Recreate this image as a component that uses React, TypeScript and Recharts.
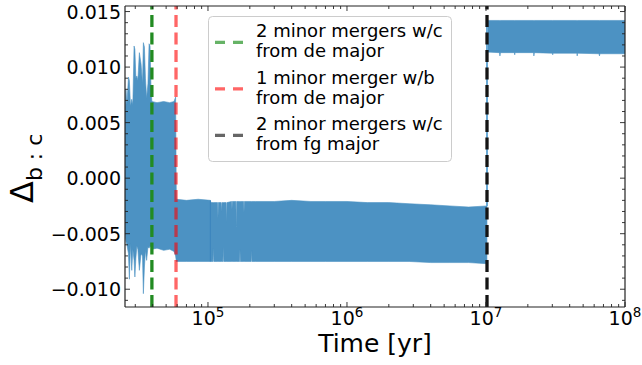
import React from "react";
import { ComposedChart, Area, XAxis, YAxis, ReferenceLine, Legend } from "recharts";

// envelope of the oscillating Δ_{b:c} signal
const times = [
  2.53e4, 2.57e4, 2.61e4, 2.68e4, 2.72e4, 2.77e4, 2.83e4, 2.88e4, 2.94e4, 2.98e4,
  3.03e4, 3.08e4, 3.13e4, 3.21e4, 3.3e4, 3.38e4, 3.43e4, 3.49e4, 3.55e4, 3.62e4,
  3.7e4, 3.77e4, 3.83e4, 3.89e4, 3.95e4,
  4.3e4, 4.8e4, 5.3e4, 5.7e4, 5.85e4,
  5.92e4, 7e4, 8.5e4, 1.04e5, 1.05e5,
  1.085e5, 1.092e5, 1.1e5, 1.172e5, 1.18e5, 1.188e5, 1.246e5, 1.255e5, 1.264e5,
  1.28e5, 1.288e5, 1.297e5, 1.35e5, 1.359e5, 1.368e5, 1.478e5, 1.488e5, 1.498e5,
  1.587e5, 1.598e5, 1.609e5, 1.688e5, 1.699e5, 1.71e5, 1.804e5, 1.816e5, 1.828e5,
  2.05e5, 2.063e5, 2.076e5,
  2.2e5, 3e5, 4e5, 5.5e5, 7e5, 1e6, 1.4e6, 2e6, 2.8e6, 4e6, 5.5e6, 7.5e6, 1.015e7,
  1.019e7, 1.25e7, 1.26e7, 1.27e7, 1.6e7, 1.61e7, 1.62e7, 2.2e7, 2.21e7, 2.23e7,
  3e7, 3.02e7, 3.04e7, 4.5e7, 4.53e7, 4.56e7, 6.5e7, 6.55e7, 6.6e7, 1e8,
];

const upper = [
  0.0064, 0.008, 0.0066, 0.0091, 0.0088, 0.0065, 0.0071, 0.0066, 0.0119, 0.0116,
  0.009, 0.0092, 0.0088, 0.0113, 0.0103, 0.0085, 0.0122, 0.0118, 0.009, 0.0072,
  0.0085, 0.0121, 0.0119, 0.0082, 0.0069,
  0.0068, 0.0069, 0.0068, 0.0069, 0.0073,
  -0.0019, -0.002, -0.0019, -0.002, -0.0022,
  -0.0022, -0.0022, -0.0022, -0.0022, -0.0036, -0.0022, -0.0022, -0.003, -0.0022,
  -0.0022, -0.0022, -0.0022, -0.0022, -0.004, -0.0022, -0.0021, -0.0028, -0.0021,
  -0.0021, -0.0044, -0.0021, -0.0021, -0.0021, -0.0021, -0.0021, -0.0031, -0.0021,
  -0.0021, -0.0021, -0.0021,
  -0.0021, -0.0021, -0.002, -0.0021, -0.0021, -0.0021, -0.0022, -0.0022, -0.0023, -0.0024, -0.0025, -0.0026, -0.0025,
  0.0142, 0.0142, 0.0142, 0.0142, 0.0142, 0.0142, 0.0142, 0.0142, 0.0142, 0.0142,
  0.0142, 0.0142, 0.0142, 0.0142, 0.0142, 0.0142, 0.0142, 0.0142, 0.0142, 0.0142,
];

const lower = [
  -0.005, -0.0057, -0.006, -0.0068, -0.0091, -0.0059, -0.0083, -0.0064, -0.0074, -0.0089,
  -0.0072, -0.0061, -0.0064, -0.0083, -0.0068, -0.007, -0.0104, -0.008, -0.0065, -0.0074,
  -0.0062, -0.0063, -0.0061, -0.0062, -0.0064,
  -0.0063, -0.0065, -0.0064, -0.0066, -0.007,
  -0.0075, -0.0075, -0.0075, -0.0075, -0.0075,
  -0.0075, -0.0063, -0.0075, -0.0075, -0.0075, -0.0075, -0.0075, -0.0075, -0.0075,
  -0.0075, -0.0062, -0.0075, -0.0075, -0.0075, -0.0075, -0.0075, -0.0075, -0.0075,
  -0.0075, -0.0075, -0.0075, -0.0075, -0.0064, -0.0075, -0.0075, -0.0075, -0.0075,
  -0.0075, -0.0065, -0.0075,
  -0.0075, -0.0075, -0.0075, -0.0075, -0.0075, -0.0075, -0.0075, -0.0075, -0.0075, -0.0076, -0.0076, -0.0076, -0.0077,
  0.01135, 0.0113, 0.011, 0.0113, 0.0113, 0.0111, 0.0113, 0.0113, 0.011, 0.0113,
  0.01125, 0.0111, 0.01125, 0.01125, 0.011, 0.01125, 0.0112, 0.011, 0.0112, 0.0112,
];

const xTicks = [
  3e4, 4e4, 5e4, 6e4, 7e4, 8e4, 9e4,
  1e5, 2e5, 3e5, 4e5, 5e5, 6e5, 7e5, 8e5, 9e5,
  1e6, 2e6, 3e6, 4e6, 5e6, 6e6, 7e6, 8e6, 9e6,
  1e7, 2e7, 3e7, 4e7, 5e7, 6e7, 7e7, 8e7, 9e7, 1e8,
];
const yTicks = [
  -0.011, -0.01, -0.009, -0.008, -0.007, -0.006, -0.005, -0.004, -0.003, -0.002, -0.001,
  0, 0.001, 0.002, 0.003, 0.004, 0.005, 0.006, 0.007, 0.008, 0.009, 0.01,
  0.011, 0.012, 0.013, 0.014, 0.015,
];

// merger events (vertical dashed lines)
const mergerTimes = [3.95e4, 5.89e4, 1.017e7];
const mergerLabels = [
  ["2 minor mergers w/c", "from de major"],
  ["1 minor merger w/b", "from de major"],
  ["2 minor mergers w/c", "from fg major"],
];
const lineColors = ["#228b22", "#ff0000", "#141414"];
const lineOpacity = [1, 0.6, 1];
const legendColors = ["#66b366", "#ff6666", "#666666"];

const FONT = "'DejaVu Sans', sans-serif";
const BLUE = "#4c92c3";
const SPINE = "#222";

const data = times.map((t, i) => ({ t, range: [lower[i], upper[i]] }));

const isDecade = (v: number) => Math.abs(Math.log10(v) - Math.round(Math.log10(v))) < 1e-6;
const isMajorY = (v: number) => Math.abs(Math.round(v * 1000)) % 5 === 0;
const fmtY = (v: number) => v.toFixed(3).replace("-", "\u2212");

function BottomTick(props: any) {
  const { x, y, payload } = props;
  const v = payload.value;
  const major = isDecade(v);
  return (
    <g>
      <line x1={x} y1={y} x2={x} y2={y - (major ? 5 : 3)} stroke={SPINE} strokeWidth={0.9} />
      {major && (
        <text x={x} y={y + 18} textAnchor="middle" fontSize={19} fontFamily={FONT} fill="#000">
          10
          <tspan dy={-8} fontSize={13.5}>
            {Math.round(Math.log10(v))}
          </tspan>
        </text>
      )}
    </g>
  );
}

function TopTick(props: any) {
  const { x, y, payload } = props;
  const major = isDecade(payload.value);
  return <line x1={x} y1={y} x2={x} y2={y + (major ? 5 : 3)} stroke={SPINE} strokeWidth={0.9} />;
}

function LeftTick(props: any) {
  const { x, y, payload } = props;
  const v = payload.value;
  const major = isMajorY(v);
  return (
    <g>
      <line x1={x} y1={y} x2={x + (major ? 5 : 3)} y2={y} stroke={SPINE} strokeWidth={0.9} />
      {major && (
        <text x={x - 4} y={y + 7} textAnchor="end" fontSize={19} fontFamily={FONT} fill="#000">
          {fmtY(v)}
        </text>
      )}
    </g>
  );
}

function RightTick(props: any) {
  const { x, y, payload } = props;
  const major = isMajorY(payload.value);
  return <line x1={x} y1={y} x2={x - (major ? 5 : 3)} y2={y} stroke={SPINE} strokeWidth={0.9} />;
}

function LegendBox() {
  return (
    <svg width={244} height={146} style={{ display: "block" }}>
      <rect x={0.5} y={0.5} width={243} height={145} rx={4} fill="#fff" fillOpacity={0.8} stroke="#cccccc" />
      {mergerLabels.map((lines, i) => (
        <g key={i}>
          <line x1={7} x2={35} y1={26.3 + i * 46.5} y2={26.3 + i * 46.5} stroke={legendColors[i]} strokeWidth={3.3} strokeDasharray="10 8" />
          {lines.map((s, j) => (
            <text key={j} x={48} y={21.3 + i * 46.5 + j * 19.8} fontSize={18} fontFamily={FONT} fill="#000">
              {s}
            </text>
          ))}
        </g>
      ))}
    </svg>
  );
}

export default function App() {
  return (
    <div style={{ position: "absolute", left: 0, top: 0, width: 642, height: 365, background: "#fff" }}>
      <ComposedChart width={642} height={365} data={data} margin={{ top: 1, right: 7, bottom: 28, left: 65 }}>
        <XAxis
          dataKey="t"
          type="number"
          scale="log"
          domain={[25300, 1e8]}
          allowDataOverflow
          ticks={xTicks}
          interval={0}
          tickSize={0}
          tickMargin={0}
          tickLine={false}
          tick={BottomTick}
          height={30}
          axisLine={{ stroke: SPINE, strokeWidth: 1.2 }}
        />
        <XAxis
          xAxisId="top"
          orientation="top"
          dataKey="t"
          type="number"
          scale="log"
          domain={[25300, 1e8]}
          allowDataOverflow
          ticks={xTicks}
          interval={0}
          tickSize={0}
          tickMargin={0}
          tickLine={false}
          tick={TopTick}
          height={5}
          axisLine={{ stroke: SPINE, strokeWidth: 1.2 }}
        />
        <YAxis
          type="number"
          domain={[-0.0116, 0.0155]}
          allowDataOverflow
          ticks={yTicks}
          interval={0}
          tickSize={0}
          tickMargin={0}
          tickLine={false}
          tick={LeftTick}
          width={60}
          axisLine={{ stroke: SPINE, strokeWidth: 1.2 }}
        />
        <YAxis
          yAxisId="right"
          orientation="right"
          type="number"
          domain={[-0.0116, 0.0155]}
          allowDataOverflow
          ticks={yTicks}
          interval={0}
          tickSize={0}
          tickMargin={0}
          tickLine={false}
          tick={RightTick}
          width={10}
          axisLine={{ stroke: SPINE, strokeWidth: 1.2 }}
        />
        <Area
          type="linear"
          dataKey="range"
          stroke={BLUE}
          strokeWidth={0.6}
          fill={BLUE}
          fillOpacity={1}
          dot={false}
          activeDot={false}
          isAnimationActive={false}
        />
        <ReferenceLine
          segment={[{ x: 1.04e5, y: -0.0075 }, { x: 1.04e5, y: -0.002 }]}
          stroke="#3a84bd"
          strokeWidth={1}
        />
        <ReferenceLine
          segment={[{ x: 1.017e7, y: -0.0025 }, { x: 1.017e7, y: 0.0142 }]}
          stroke="#6aaad6"
          strokeWidth={2}
        />
        {mergerTimes.map((t, i) => (
          <ReferenceLine
            key={i}
            x={t}
            stroke={lineColors[i]}
            strokeOpacity={lineOpacity[i]}
            strokeWidth={3.3}
            strokeDasharray="12 5.5"
          />
        ))}
        <text x={375} y={352} textAnchor="middle" fontSize={25} fontFamily={FONT} fill="#000">
          Time [yr]
        </text>
        <text transform="translate(33, 203) rotate(-90)" fontSize={32} fontFamily={FONT} fill="#000">
          Δ
          <tspan fontSize={22} dy={9}>
            b : c
          </tspan>
        </text>
        <Legend
          layout="horizontal"
          verticalAlign="middle"
          align="center"
          content={() => <LegendBox />}
          wrapperStyle={{ left: 208, top: 16, width: 244, height: 146 }}
        />
      </ComposedChart>
    </div>
  );
}
